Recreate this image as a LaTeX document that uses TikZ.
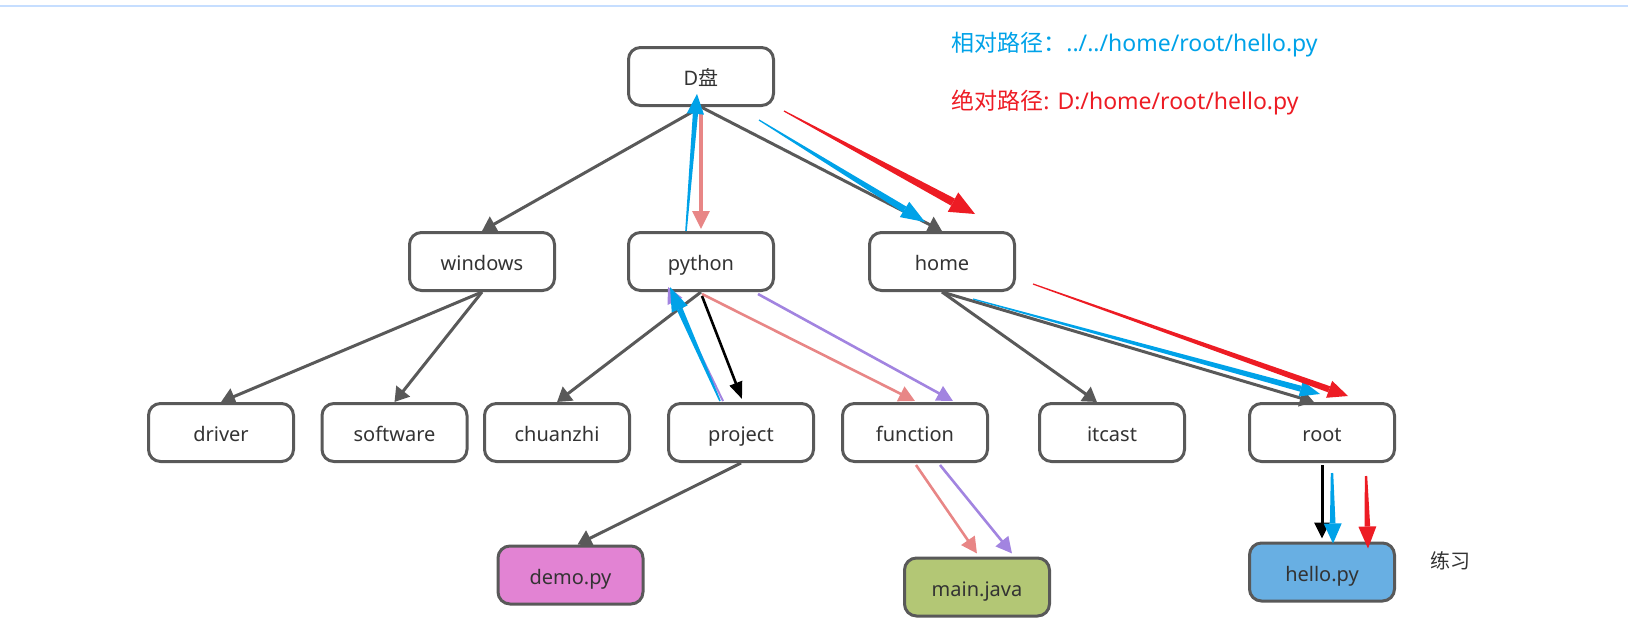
\documentclass[tikz,border=0pt]{standalone}
\usepackage{fontspec}
\setmainfont{Noto Sans}
\newfontfamily\cjk{Noto Sans CJK SC}
\usepackage{tikz}
\usetikzlibrary{calc}
\usetikzlibrary{arrows.meta}
\usepackage{xcolor}

\definecolor{cgray}{HTML}{595959}
\definecolor{ctext}{HTML}{333333}
\definecolor{ctop}{HTML}{C6DEFF}
\definecolor{cblue}{HTML}{00A2E8}
\definecolor{cred}{HTML}{ED1C24}
\definecolor{csalmon}{HTML}{E88686}
\definecolor{cpurple}{HTML}{A284E0}
\definecolor{cdemo}{HTML}{E283D3}
\definecolor{cmain}{HTML}{B3C775}
\definecolor{chello}{HTML}{68AFE3}

% tapered arrow: colour, from, to, tail half width, body half width, head length, head half width
\newcommand{\taper}[7]{%
  \coordinate (tb) at ($(#3)!#6!(#2)$);
  \fill[#1] ($(#2)!#4!90:(tb)$) -- ($(#2)!#4!-90:(tb)$)
    -- ($(tb)!#5!90:(#2)$) -- ($(tb)!#5!-90:(#2)$) -- cycle;
  \fill[#1] (#3) -- ($(tb)!#7!90:(#2)$) -- ($(tb)!#7!-90:(#2)$) -- cycle;
}

\begin{document}
\begin{tikzpicture}[x=0.5pt,y=-0.5pt]
    \tikzstyle{folder}=[draw=cgray,line width=1.5pt,rounded corners=6pt,fill=white,minimum width=72.5pt,minimum height=29pt,text=ctext,text height=11pt,text depth=2pt,font=\fontsize{10}{12}\selectfont]
    \tikzstyle{link}=[draw=cgray,line width=1.5pt,-{Triangle[length=7pt,width=8.5pt]}]
    \tikzstyle{walk}=[line width=1.3pt,-{Triangle[length=8pt,width=8pt]}]
    \useasboundingbox (0,0) rectangle (1628,632);
    \draw[ctop,line width=0.7pt] (0,6) -- (1628,6);
    % folders
    \node[folder] (disk) at (701,76.5) {D{\cjk 盘}};
    \node[folder] (windows) at (482,261.5) {windows};
    \node[folder] (python) at (701,261.5) {python};
    \node[folder] (home) at (942,261.5) {home};
    \node[folder] (driver) at (221,432.5) {driver};
    \node[folder] (software) at (394.5,432.5) {software};
    \node[folder] (chuanzhi) at (557,432.5) {chuanzhi};
    \node[folder] (project) at (741,432.5) {project};
    \node[folder] (function) at (915,432.5) {function};
    \node[folder] (itcast) at (1112,432.5) {itcast};
    \node[folder] (root) at (1322,432.5) {root};
    \node[folder,fill=cdemo] (demo) at (570.5,575) {demo.py};
    \node[folder,fill=cmain] (mainjava) at (977,587) {main.java};
    \node[folder,fill=chello] (hello) at (1322,572) {hello.py};
    % labels
    \node[text=cblue,anchor=west,inner sep=0,font=\fontsize{11.5}{14}\selectfont] (rel) at (951,45) {{\cjk 相对路径：}../../home/root/hello.py};
    \node[text=cred,anchor=west,inner sep=0,font=\fontsize{11.5}{14}\selectfont] (abs) at (951,102) {{\cjk 绝对路径}: D:/home/root/hello.py};
    \node[text=ctext,font=\fontsize{10}{12}\selectfont] (practice) at (1450,561) {\cjk 练习};
    % tree
    \draw[link] (disk.south) -- (windows.north);
    \draw[link] (disk.south) -- (home.north);
    \draw[link] (windows.south) -- (driver.north);
    \draw[link] (windows.south) -- (software.north);
    \draw[link] (python.south) -- (chuanzhi.north);
    \draw[link] (project.south) -- ($(demo.north)+(7,0)$);
    \draw[link] (home.south) -- ($(itcast.north)+(-15,0)$);
    \draw[link] (home.south) -- ($(root.north)+(-8,0)$);
    % ends of the walks
    \coordinate (p1s) at ($(python.south)+(57,2)$);
    \coordinate (p1e) at ($(function.north)+(38,-1)$);
    \coordinate (p2s) at ($(project.north)+(-18,-1)$);
    \coordinate (p2e) at ($(python.south)+(-33,-5)$);
    \coordinate (p3s) at ($(function.south)+(25,2)$);
    \coordinate (p3e) at ($(mainjava.north)+(35,-3)$);
    \coordinate (s1s) at ($(disk.south)+(0,6)$);
    \coordinate (s1e) at ($(python.north)+(0,-2)$);
    \coordinate (s2s) at ($(python.south)+(1,2)$);
    \coordinate (s2e) at ($(function.north)+(0,-1)$);
    \coordinate (s3s) at ($(function.south)+(1,2)$);
    \coordinate (s3e) at ($(mainjava.north)+(0,-3)$);
    \coordinate (k1s) at ($(python.south)+(1,4)$);
    \coordinate (k1e) at ($(project.north)+(1,-3)$);
    \coordinate (k2s) at ($(root.south)+(0,2)$);
    \coordinate (k2e) at ($(hello.north)+(0,-3)$);
    \coordinate (b1s) at ($(python.north)+(-15,0)$);
    \coordinate (b1e) at ($(disk.south)+(-4,-13)$);
    \coordinate (b2s) at ($(disk.south)+(58,13)$);
    \coordinate (b2e) at ($(home.north)+(-17,-9)$);
    \coordinate (b3s) at ($(project.north)+(-21,-1)$);
    \coordinate (b3e) at ($(python.south)+(-31,-5)$);
    \coordinate (b4s) at ($(home.south)+(31,7)$);
    \coordinate (b4e) at ($(root.north)+(-2,-8)$);
    \coordinate (b5s) at ($(root.south)+(10,10)$);
    \coordinate (b5e) at ($(hello.north)+(11,2)$);
    \coordinate (r1s) at ($(disk.south)+(83,4)$);
    \coordinate (r1e) at ($(home.north)+(33,-17)$);
    \coordinate (r2s) at ($(home.south)+(91,-8)$);
    \coordinate (r2e) at ($(root.north)+(26,-6)$);
    \coordinate (r3s) at ($(root.south)+(44,13)$);
    \coordinate (r3e) at ($(hello.north)+(46,7)$);
    % walks
    \draw[walk,cpurple] (p1s) -- (p1e);
    \draw[walk,cpurple,line width=1pt] (p2s) -- (p2e);
    \draw[walk,cpurple] (p3s) -- (p3e);
    \draw[walk,csalmon,line width=1.6pt,-{Triangle[length=9pt,width=8.5pt]}] (s1s) -- (s1e);
    \draw[walk,csalmon] (s2s) -- (s2e);
    \draw[walk,csalmon] (s3s) -- (s3e);
    \draw[walk,black,-{Triangle[length=8.5pt,width=6.5pt]}] (k1s) -- (k1e);
    \draw[walk,black,line width=1.5pt,-{Triangle[length=8pt,width=7.5pt]}] (k2s) -- (k2e);
    \taper{cblue}{b1s}{b1e}{0.4pt}{1.3pt}{10pt}{4.3pt}
    \taper{cblue}{b2s}{b2e}{0.3pt}{1.7pt}{12pt}{4.5pt}
    \taper{cblue}{b3s}{b3e}{0.4pt}{1.5pt}{12pt}{4.3pt}
    \taper{cblue}{b4s}{b4e}{0.3pt}{1.5pt}{10pt}{4pt}
    \taper{cblue}{b5s}{b5e}{0.6pt}{1.4pt}{10pt}{4.5pt}
    \taper{cred}{r1s}{r1e}{0.3pt}{2pt}{12.5pt}{5.5pt}
    \taper{cred}{r2s}{r2e}{0.3pt}{1.6pt}{10pt}{4.5pt}
    \taper{cred}{r3s}{r3e}{0.6pt}{1.4pt}{11pt}{4.5pt}
\end{tikzpicture}
\end{document}
